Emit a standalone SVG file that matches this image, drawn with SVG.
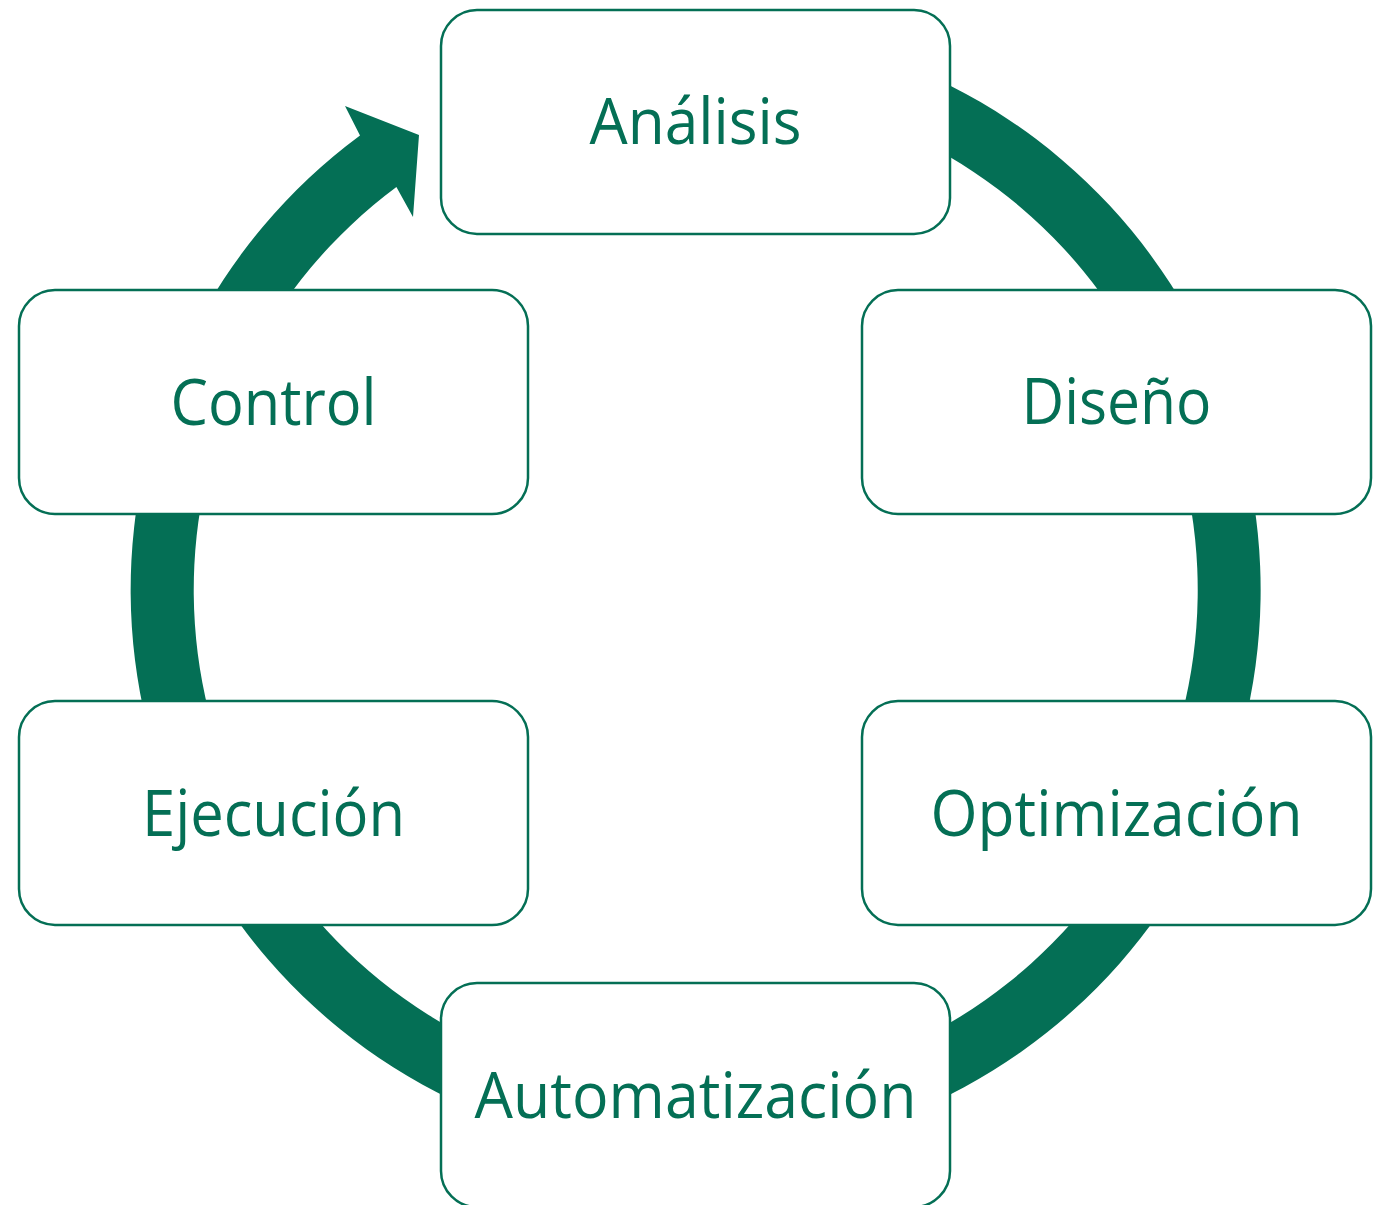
<svg xmlns="http://www.w3.org/2000/svg" width="1385" height="1205" viewBox="0 0 1385 1205">
<style>
.box{fill:#ffffff;stroke:#046F55;stroke-width:2.5}
.lbl{font-family:"Open Sans","Noto Sans","Liberation Sans",sans-serif;font-size:64px;fill:#046F55;text-anchor:middle}
.ring{fill:#046F55;stroke:none}
</style>
<rect width="1385" height="1205" fill="#ffffff"/>
<g id="connectors">
<path class="ring" d="M 695 25 A 565 565 0 1 1 360 135.5 L 345 106 L 419 135 L 413 217 L 396.4 187 A 502 502 0 1 0 695 88 Z"/>
</g>
<g id="node-analisis">
<rect class="box" x="441" y="10" width="509" height="224" rx="36"/>
<text class="lbl" x="695.5" y="144" textLength="212" lengthAdjust="spacingAndGlyphs">Análisis</text>
</g>
<g id="node-diseno">
<rect class="box" x="862" y="290" width="509" height="224" rx="36"/>
<text class="lbl" x="1116.5" y="424" textLength="190" lengthAdjust="spacingAndGlyphs">Diseño</text>
</g>
<g id="node-optimizacion">
<rect class="box" x="862" y="701" width="509" height="224" rx="36"/>
<text class="lbl" x="1116.5" y="836" textLength="372" lengthAdjust="spacingAndGlyphs">Optimización</text>
</g>
<g id="node-automatizacion">
<rect class="box" x="441" y="983" width="509" height="224" rx="36"/>
<text class="lbl" x="695.5" y="1118" textLength="442" lengthAdjust="spacingAndGlyphs">Automatización</text>
</g>
<g id="node-ejecucion">
<rect class="box" x="19" y="701" width="509" height="224" rx="36"/>
<text class="lbl" x="273.5" y="836" textLength="263" lengthAdjust="spacingAndGlyphs">Ejecución</text>
</g>
<g id="node-control">
<rect class="box" x="19" y="290" width="509" height="224" rx="36"/>
<text class="lbl" x="273.5" y="425" textLength="206" lengthAdjust="spacingAndGlyphs">Control</text>
</g>
</svg>
